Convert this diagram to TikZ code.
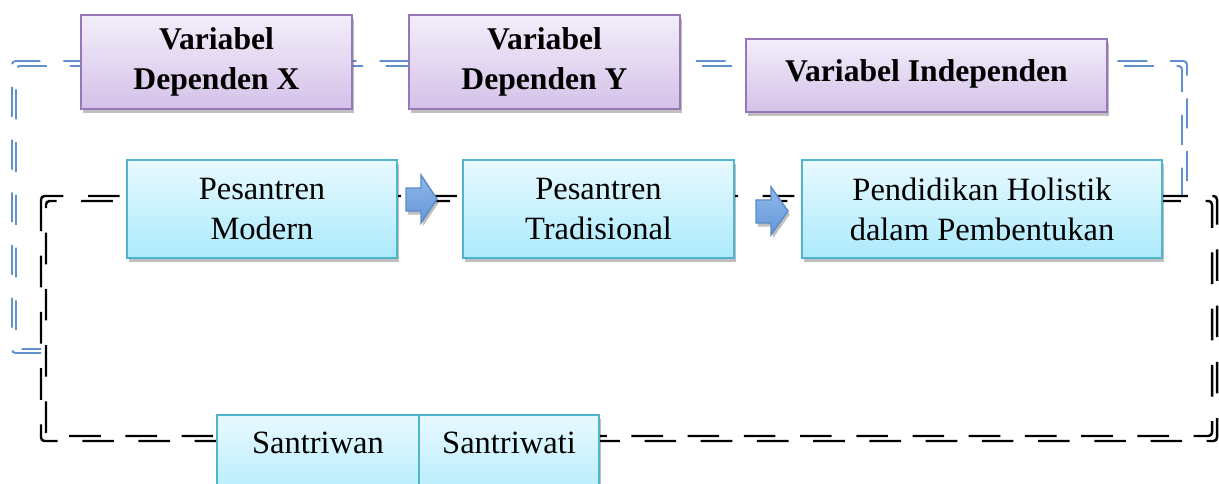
\documentclass[tikz,border=0pt]{standalone}
\usepackage{fontspec}
\setmainfont{Liberation Serif}
\usetikzlibrary{shadows}

\definecolor{lineblue}{RGB}{96,145,205}
\definecolor{purpletop}{RGB}{243,238,250}
\definecolor{purplebot}{RGB}{212,193,232}
\definecolor{purpleedge}{RGB}{150,120,185}
\definecolor{cyantop}{RGB}{232,249,254}
\definecolor{cyanbot}{RGB}{172,234,252}
\definecolor{cyanedge}{RGB}{80,180,205}
\definecolor{arrowtop}{RGB}{145,184,235}
\definecolor{arrowbot}{RGB}{100,150,215}
\definecolor{arrowedge}{RGB}{90,140,200}

\tikzset{
  varbox/.style={draw=purpleedge, line width=1.2pt, top color=purpletop, bottom color=purplebot,
    drop shadow={shadow xshift=1pt, shadow yshift=-2.5pt, opacity=0.25, fill=black},
    font=\fontsize{18}{22.7}\selectfont\bfseries, align=center, inner sep=0pt},
  pesbox/.style={draw=cyanedge, line width=1.2pt, top color=cyantop, bottom color=cyanbot,
    drop shadow={shadow xshift=1pt, shadow yshift=-2.5pt, opacity=0.25, fill=black},
    font=\fontsize{18.5}{22.7}\selectfont, align=center, inner sep=0pt},
  bluedash/.style={lineblue, line width=1.1pt, dash pattern=on 17pt off 13pt, rounded corners=2pt},
  blackdash/.style={black, line width=1.4pt, dash pattern=on 18pt off 14pt, rounded corners=2pt},
  blockarrow/.style={draw=arrowedge, line width=0.8pt, top color=arrowtop, bottom color=arrowbot,
    drop shadow={shadow xshift=1pt, shadow yshift=-2pt, opacity=0.25, fill=black}}
}

\begin{document}
\begin{tikzpicture}[x=0.02cm, y=-0.02cm]
  \useasboundingbox (0,0) rectangle (1219,483);
  \clip (0,0) rectangle (1219,483);

  % blue frame
  \draw[bluedash] (41,353) -- (12,353) -- (12,61) -- (1187,61) -- (1187,197);
  \draw[bluedash, dash phase=6pt] (41,349) -- (16,349) -- (16,66) -- (1182,66) -- (1182,197);

  % black frame
  \draw[blackdash] (41,196) rectangle (1217,441);
  \draw[blackdash, dash phase=16pt] (46,201) rectangle (1212,436);

  % variables
  \node[varbox, minimum width=5.42cm, minimum height=1.88cm] (depx) at (216.5,62) {Variabel\\Dependen X};
  \node[varbox, minimum width=5.42cm, minimum height=1.88cm] (depy) at (544.5,62) {Variabel\\Dependen Y};
  \node[varbox, minimum width=7.22cm, minimum height=1.46cm, text depth=0.2cm] (indep) at (926.5,75.5) {Variabel Independen};

  % pesantren
  \node[pesbox, minimum width=5.4cm, minimum height=1.96cm] (modern) at (262,209) {Pesantren\\Modern};
  \node[pesbox, minimum width=5.42cm, minimum height=1.96cm] (tradisional) at (598.5,209) {Pesantren\\Tradisional};
  \node[pesbox, minimum width=7.2cm, minimum height=1.96cm] (holistik) at (982,209) {Pendidikan Holistik\\dalam Pembentukan};

  \node[pesbox, minimum width=4.04cm, text height=0.76cm, text depth=1.2cm, anchor=north] (santriwan) at (318,414) {Santriwan};
  \node[pesbox, minimum width=3.6cm, text height=0.76cm, text depth=1.2cm, anchor=north] (santriwati) at (509,414) {Santriwati};

  % arrows
  \draw[blockarrow] (406,188) -- (421,188) -- (421,175) -- (437,199) -- (421,223) -- (421,211) -- (406,211) -- cycle;
  \draw[blockarrow] (756,200) -- (771,200) -- (771,187) -- (788,211) -- (771,235) -- (771,223) -- (756,223) -- cycle;
\end{tikzpicture}
\end{document}
